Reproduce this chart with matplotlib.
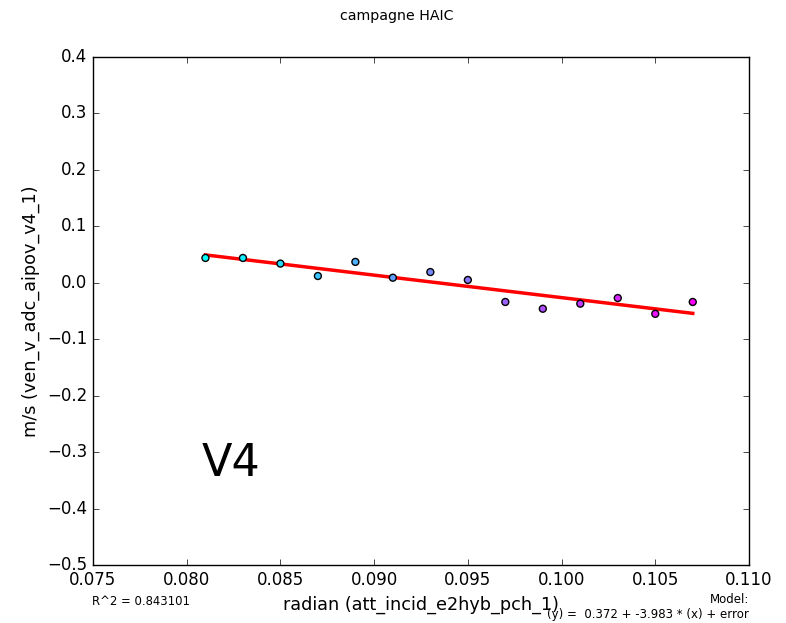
import matplotlib
matplotlib.use("Agg")
import matplotlib.pyplot as plt
import numpy as np

plt.style.use("classic")

x_vals = [0.081, 0.083, 0.085, 0.087, 0.089, 0.091, 0.093, 0.095, 0.097, 0.099, 0.101, 0.103, 0.105, 0.107]
y_vals = [0.044, 0.044, 0.034, 0.012, 0.037, 0.009, 0.019, 0.005, -0.034, -0.046, -0.037, -0.027, -0.055, -0.034]
intercept = 0.372
slope = -3.983
r2_text = "R^2 = 0.843101"
model_text = "Model:\n(y) =  0.372 + -3.983 * (x) + error"

fig = plt.figure(figsize=(7.86, 6.23), dpi=100)
fig.patch.set_facecolor("white")
ax = fig.add_axes([0.1183, 0.0931, 0.9529 - 0.1183, 0.9085 - 0.0931])

x = np.array(x_vals)
y = np.array(y_vals)
ax.scatter(x, y, c=x, cmap="cool", s=25, edgecolors="black", linewidths=1, zorder=3)
ax.plot(x, intercept + slope * x, color="red", linewidth=2.5, zorder=2)

ax.set_xlim(0.075, 0.110)
ax.set_ylim(-0.5, 0.4)
ax.set_xticks(np.arange(0.075, 0.1101, 0.005))
ax.set_yticks(np.arange(-0.5, 0.401, 0.1))
ax.tick_params(labelsize=12)
ax.set_xlabel("radian (att_incid_e2hyb_pch_1)", fontsize=12.7)
ax.set_ylabel("m/s (ven_v_adc_aipov_v4_1)", fontsize=12.7)
ax.text(0.0808, -0.32, "V4", fontsize=32, va="center", ha="left")

fig.suptitle("campagne HAIC", fontsize=10.2, x=0.505, y=0.985)
fig.text(0.117, 0.035, r2_text, fontsize=8.4, ha="left", va="center")
fig.text(0.953, 0.025, model_text, fontsize=8.5, ha="right", va="center", multialignment="right")

fig.savefig("out.png", dpi=100, facecolor="white")
